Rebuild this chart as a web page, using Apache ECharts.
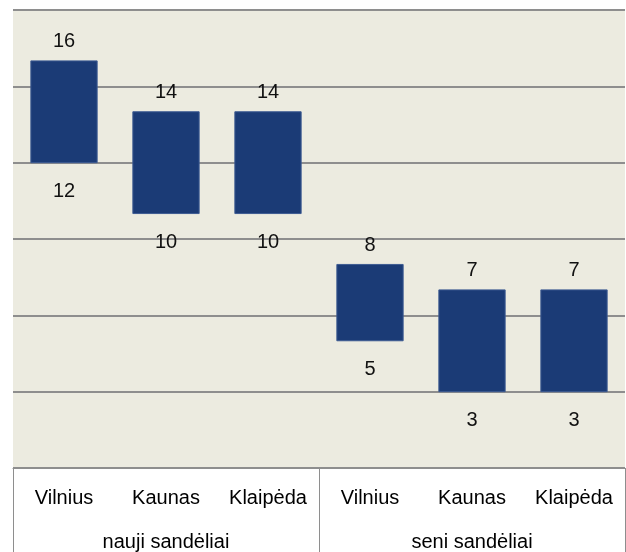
<!DOCTYPE html>
<html>
<head>
<meta charset="utf-8">
<title>Sandėlių nuomos kainos</title>
<script src="https://cdn.jsdelivr.net/npm/echarts@6/dist/echarts.min.js"></script>
<style>
  html, body { margin: 0; padding: 0; background: #ffffff; }
  #chart { width: 626px; height: 552px; }
</style>
</head>
<body>
<div id="chart"></div>
<script>
// Cities and warehouse groups along the category axis
const cities = ['Vilnius', 'Kaunas', 'Klaipėda', 'Vilnius', 'Kaunas', 'Klaipėda'];
const groups = ['nauji sandėliai', 'seni sandėliai'];

// Range of each bar: lower and upper value
const lowValues  = [12, 10, 10, 5, 3, 3];
const highValues = [16, 14, 14, 8, 7, 7];

const FONT = '"Liberation Sans", Arial, sans-serif';
const GRID_COLOR = '#8e8e8e';
const BAR_COLOR = '#1b3b76';

const chart = echarts.init(document.getElementById('chart'), null, { renderer: 'canvas' });

const rangeData = cities.map((c, i) => [i, lowValues[i], highValues[i]]);

chart.setOption({
  backgroundColor: '#ffffff',
  animation: false,
  grid: {
    left: 13, right: 1, top: 10, bottom: 84,
    show: true, backgroundColor: '#ecebe0', borderWidth: 0
  },
  xAxis: [
    {
      type: 'category',
      data: cities,
      position: 'bottom',
      axisLine: { show: true, lineStyle: { color: GRID_COLOR, width: 1 } },
      axisTick: { show: false },
      axisLabel: { color: '#000', fontFamily: FONT, fontSize: 20, margin: 20 }
    },
    {
      type: 'category',
      data: groups,
      position: 'bottom',
      offset: 0,
      axisLine: { show: false },
      axisTick: { show: true, length: 90, lineStyle: { color: GRID_COLOR, width: 1 } },
      axisLabel: { color: '#000', fontFamily: FONT, fontSize: 20, margin: 64 }
    }
  ],
  yAxis: {
    type: 'value',
    min: 0, max: 18, interval: 3,
    axisLine: { show: false },
    axisTick: { show: false },
    axisLabel: { show: false },
    splitLine: { show: true, lineStyle: { color: GRID_COLOR, width: 2 } }
  },
  series: [
    {
      type: 'custom',
      xAxisIndex: 0,
      data: rangeData,
      encode: { x: 0, y: [1, 2] },
      renderItem: function (params, api) {
        const idx = api.value(0);
        const lo = api.value(1);
        const hi = api.value(2);
        const top = api.coord([idx, hi]);
        const bottom = api.coord([idx, lo]);
        const w = api.size([1, 0])[0] * 0.65;
        const textStyle = { fill: '#111', font: '20px ' + FONT, align: 'center', verticalAlign: 'middle' };
        return {
          type: 'group',
          children: [
            {
              type: 'rect',
              shape: { x: top[0] - w / 2, y: top[1], width: w, height: bottom[1] - top[1] },
              style: { fill: BAR_COLOR, stroke: '#3d5b92', lineWidth: 1 }
            },
            {
              type: 'text',
              x: top[0], y: top[1] - 19,
              style: Object.assign({ text: String(hi) }, textStyle)
            },
            {
              type: 'text',
              x: bottom[0], y: bottom[1] + 29,
              style: Object.assign({ text: String(lo) }, textStyle)
            }
          ]
        };
      }
    }
  ]
});
</script>
</body>
</html>
